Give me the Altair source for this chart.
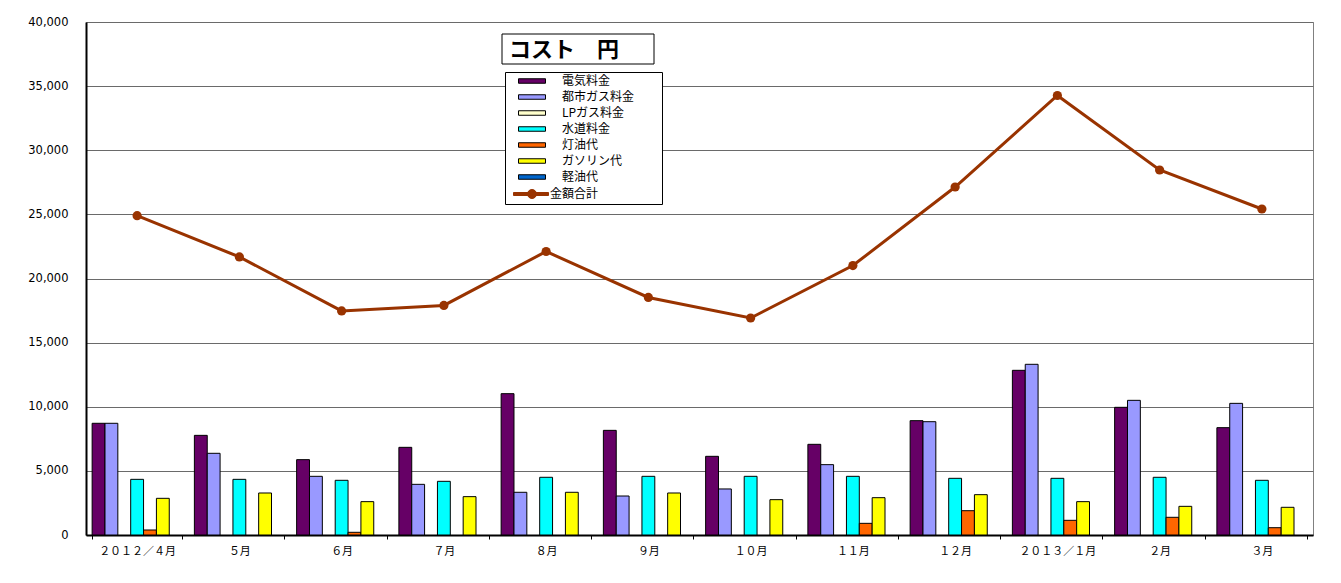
import altair as alt
import pandas as pd

# ---- data ----
months = ["２０１２／４月", "５月", "６月", "７月", "８月", "９月",
          "１０月", "１１月", "１２月", "２０１３／１月", "２月", "３月"]
series_names = ["電気料金", "都市ガス料金", "LPガス料金", "水道料金", "灯油代", "ガソリン代", "軽油代"]
total_name = "金額合計"

electric = [8710, 7770, 5875, 6835, 11020, 8160, 6135, 7070, 8915, 12840, 9955, 8370]
city_gas = [8710, 6370, 4575, 3950, 3330, 3040, 3590, 5485, 8835, 13310, 10500, 10265]
lp_gas = [0, 0, 0, 0, 0, 0, 0, 0, 0, 0, 0, 0]
water = [4340, 4340, 4265, 4185, 4500, 4575, 4575, 4575, 4420, 4420, 4500, 4265]
kerosene = [390, 0, 210, 0, 0, 0, 0, 910, 1895, 1145, 1380, 570]
gasoline = [2860, 3275, 2600, 2990, 3330, 3275, 2755, 2910, 3145, 2600, 2235, 2160]
diesel = [0, 0, 0, 0, 0, 0, 0, 0, 0, 0, 0, 0]
total = [24900, 21680, 17470, 17900, 22105, 18520, 16920, 21010, 27135, 34270, 28460, 25420]

bar_colors = ["#660066", "#9999FF", "#FFFFCC", "#00FFFF", "#FF6600", "#FFFF00", "#0066CC"]
total_color = "#993300"
y_ticks = [0, 5000, 10000, 15000, 20000, 25000, 30000, 35000, 40000]
chart_title = "コスト　円"

# ---- tables ----
rows = []
for name, vals in zip(series_names, [electric, city_gas, lp_gas, water, kerosene, gasoline, diesel]):
    for m, v in zip(months, vals):
        if v > 0:
            rows.append({"month": m, "series": name, "value": v})
bars_df = pd.DataFrame(rows)
total_df = pd.DataFrame({"month": months, "value": total, "series": total_name})
one_df = pd.DataFrame({"t": [0]})

JP = "Noto Sans CJK JP"

x_enc = alt.X(
    "month:N", sort=months,
    scale=alt.Scale(domain=months, paddingInner=0.12, paddingOuter=0.06),
    axis=alt.Axis(title=None, labelAngle=0, labelFont=JP, labelFontSize=11,
                  labelColor="black", domainColor="black", domainWidth=2,
                  tickBand="extent", tickSize=4, tickColor="black",
                  labelPadding=6, grid=False),
)
y_enc = alt.Y(
    "value:Q",
    scale=alt.Scale(domain=[0, 40000], nice=False),
    axis=alt.Axis(title=None, values=y_ticks, format=",.0f", tickSize=0, labelPadding=18,
                  domainColor="black", domainWidth=2, gridColor="#6a6a6a", gridWidth=1,
                  labelFont="DejaVu Sans", labelFontSize=11.5, labelColor="black"),
)

rect_path = "M0.9,-0.45H6.3V0.45H0.9Z"
total_path = "M-0.1,-0.3H6.9V0.3H-0.1Z M2.7,0A0.9,0.9 0 1,1 4.5,0A0.9,0.9 0 1,1 2.7,0Z"
ZW = "\u200b"   # zero-width guard so the spacing is not trimmed
SP = "\u3000"

legend = alt.Legend(
    title=None, orient="none", legendX=419, legendY=50,
    fillColor="white", strokeColor="black", padding=3,
    symbolSize=100,
    symbolType={"expr": f"datum.value === '{total_name}' ? '{total_path}' : '{rect_path}'"},
    symbolStrokeColor={"expr": f"datum.value === '{total_name}' ? '{total_color}' : 'black'"},
    symbolStrokeWidth=1, symbolOpacity=1,
    labelExpr=(f"datum.value === '{total_name}' ? datum.value + '{SP * 2}{ZW}' : "
               f"'{ZW}{SP}' + datum.value + '{SP * 2}{ZW}'"),
    labelOffset=30, labelFont=JP, labelFontSize=12, labelColor="black",
    rowPadding=4,
)

bars = alt.Chart(bars_df).mark_bar(stroke="black", strokeWidth=1).encode(
    x=x_enc,
    xOffset=alt.XOffset("series:N", scale=alt.Scale(domain=series_names, paddingInner=0, paddingOuter=0)),
    y=y_enc,
    color=alt.Color("series:N",
                    scale=alt.Scale(domain=series_names + [total_name], range=bar_colors + [total_color]),
                    legend=legend),
)

line = alt.Chart(total_df).mark_line(color=total_color, strokeWidth=3).encode(
    x=alt.X("month:N", sort=months), y="value:Q"
)
points = alt.Chart(total_df).mark_circle(color=total_color, size=85, opacity=1).encode(
    x=alt.X("month:N", sort=months), y="value:Q"
)

title_box = alt.Chart(one_df).mark_rect(fill="white", stroke="black", strokeWidth=1).encode(
    x=alt.value(416), x2=alt.value(568), y=alt.value(12), y2=alt.value(42)
)
title_text = alt.Chart(one_df).mark_text(
    align="left", baseline="middle", font=JP, fontSize=22, fontWeight="bold", color="black"
).encode(x=alt.value(423), y=alt.value(28), text=alt.value(chart_title))

chart = alt.layer(bars, line, points, title_box, title_text).properties(
    width=1227, height=513,
    autosize=alt.AutoSizeParams(type="none"),
    padding={"left": 78, "top": 14, "right": 20, "bottom": 40},
).configure_view(stroke="#808080", strokeWidth=1)

chart.save("out.html", embed_options={"renderer": "svg", "actions": False})
